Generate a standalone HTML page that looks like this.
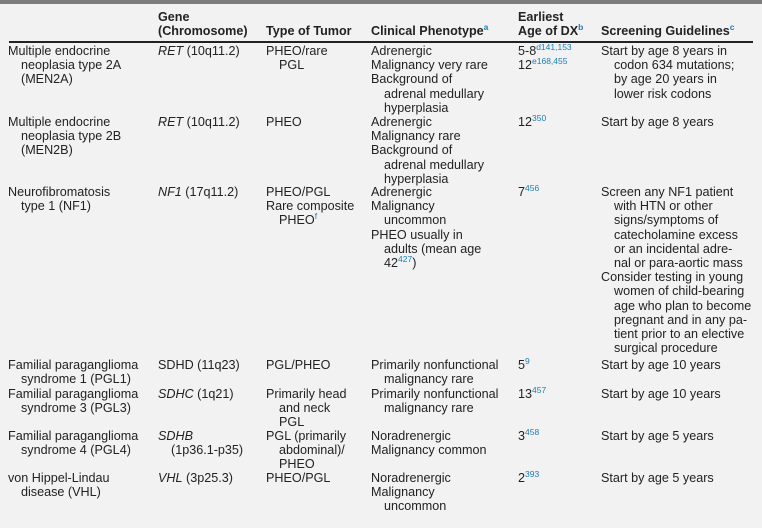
<!DOCTYPE html>
<html><head><meta charset="utf-8"><style>
html,body{margin:0;padding:0}
body{width:762px;height:528px;background:#f2f2f2;position:relative;overflow:hidden;font-family:"Liberation Sans",Arial,sans-serif;font-size:12.6px;color:#222;line-height:14.2px}
.bar{position:absolute;left:0;top:0;width:762px;height:4px;background:#7d7d80}
.hl{position:absolute;left:9px;top:41px;width:744px;height:1.5px;background:#222}
.c{position:absolute;white-space:nowrap}
.c div{padding-left:13px;text-indent:-13px}
.h{font-weight:bold;position:absolute;white-space:nowrap}
sup{color:#1a7db8;font-size:8.5px;line-height:0;vertical-align:5px}
i{font-style:italic}
.w{position:absolute;left:0;top:2px;width:762px;height:526px}
</style></head><body>
<div class="bar"></div>
<div class="hl"></div>
<div class="w">
<div class="h" style="left:158px;top:8px">Gene<br>(Chromosome)</div>
<div class="h" style="left:266px;top:22px">Type of Tumor</div>
<div class="h" style="left:371px;top:22px">Clinical Phenotype<sup>a</sup></div>
<div class="h" style="left:518px;top:8px">Earliest<br>Age of DX<sup>b</sup></div>
<div class="h" style="left:601px;top:22px">Screening Guidelines<sup>c</sup></div>

<div class="c" style="left:8px;top:42px"><div>Multiple endocrine<br>neoplasia type 2A<br>(MEN2A)</div></div>
<div class="c" style="left:158px;top:42px"><div><i>RET</i> (10q11.2)</div></div>
<div class="c" style="left:266px;top:42px"><div>PHEO/rare<br>PGL</div></div>
<div class="c" style="left:371px;top:42px"><div>Adrenergic</div><div>Malignancy very rare</div><div>Background of<br>adrenal medullary<br>hyperplasia</div></div>
<div class="c" style="left:518px;top:42px"><div>5-8<sup>d141,153</sup></div><div>12<sup>e168,455</sup></div></div>
<div class="c" style="left:601px;top:42px"><div>Start by age 8 years in<br>codon 634 mutations;<br>by age 20 years in<br>lower risk codons</div></div>

<div class="c" style="left:8px;top:113px"><div>Multiple endocrine<br>neoplasia type 2B<br>(MEN2B)</div></div>
<div class="c" style="left:158px;top:113px"><div><i>RET</i> (10q11.2)</div></div>
<div class="c" style="left:266px;top:113px"><div>PHEO</div></div>
<div class="c" style="left:371px;top:113px"><div>Adrenergic</div><div>Malignancy rare</div><div>Background of<br>adrenal medullary<br>hyperplasia</div></div>
<div class="c" style="left:518px;top:113px"><div>12<sup>350</sup></div></div>
<div class="c" style="left:601px;top:113px"><div>Start by age 8 years</div></div>

<div class="c" style="left:8px;top:183px"><div>Neurofibromatosis<br>type 1 (NF1)</div></div>
<div class="c" style="left:158px;top:183px"><div><i>NF1</i> (17q11.2)</div></div>
<div class="c" style="left:266px;top:183px"><div>PHEO/PGL</div><div>Rare composite<br>PHEO<sup>f</sup></div></div>
<div class="c" style="left:371px;top:183px"><div>Adrenergic</div><div>Malignancy<br>uncommon</div><div>PHEO usually in<br>adults (mean age<br>42<sup>427</sup>)</div></div>
<div class="c" style="left:518px;top:183px"><div>7<sup>456</sup></div></div>
<div class="c" style="left:601px;top:183px"><div>Screen any NF1 patient<br>with HTN or other<br>signs/symptoms of<br>catecholamine excess<br>or an incidental adre-<br>nal or para-aortic mass</div><div>Consider testing in young<br>women of child-bearing<br>age who plan to become<br>pregnant and in any pa-<br>tient prior to an elective<br>surgical procedure</div></div>

<div class="c" style="left:8px;top:356px"><div>Familial paraganglioma<br>syndrome 1 (PGL1)</div></div>
<div class="c" style="left:158px;top:356px"><div>SDHD (11q23)</div></div>
<div class="c" style="left:266px;top:356px"><div>PGL/PHEO</div></div>
<div class="c" style="left:371px;top:356px"><div>Primarily nonfunctional<br>malignancy rare</div></div>
<div class="c" style="left:518px;top:356px"><div>5<sup>9</sup></div></div>
<div class="c" style="left:601px;top:356px"><div>Start by age 10 years</div></div>

<div class="c" style="left:8px;top:385px"><div>Familial paraganglioma<br>syndrome 3 (PGL3)</div></div>
<div class="c" style="left:158px;top:385px"><div><i>SDHC</i> (1q21)</div></div>
<div class="c" style="left:266px;top:385px"><div>Primarily head<br>and neck<br>PGL</div></div>
<div class="c" style="left:371px;top:385px"><div>Primarily nonfunctional<br>malignancy rare</div></div>
<div class="c" style="left:518px;top:385px"><div>13<sup>457</sup></div></div>
<div class="c" style="left:601px;top:385px"><div>Start by age 10 years</div></div>

<div class="c" style="left:8px;top:427px"><div>Familial paraganglioma<br>syndrome 4 (PGL4)</div></div>
<div class="c" style="left:158px;top:427px"><div><i>SDHB</i><br>(1p36.1-p35)</div></div>
<div class="c" style="left:266px;top:427px"><div>PGL (primarily<br>abdominal)/<br>PHEO</div></div>
<div class="c" style="left:371px;top:427px"><div>Noradrenergic</div><div>Malignancy common</div></div>
<div class="c" style="left:518px;top:427px"><div>3<sup>458</sup></div></div>
<div class="c" style="left:601px;top:427px"><div>Start by age 5 years</div></div>

<div class="c" style="left:8px;top:469px"><div>von Hippel-Lindau<br>disease (VHL)</div></div>
<div class="c" style="left:158px;top:469px"><div><i>VHL</i> (3p25.3)</div></div>
<div class="c" style="left:266px;top:469px"><div>PHEO/PGL</div></div>
<div class="c" style="left:371px;top:469px"><div>Noradrenergic</div><div>Malignancy<br>uncommon</div></div>
<div class="c" style="left:518px;top:469px"><div>2<sup>393</sup></div></div>
<div class="c" style="left:601px;top:469px"><div>Start by age 5 years</div></div>
</div>
</body></html>
